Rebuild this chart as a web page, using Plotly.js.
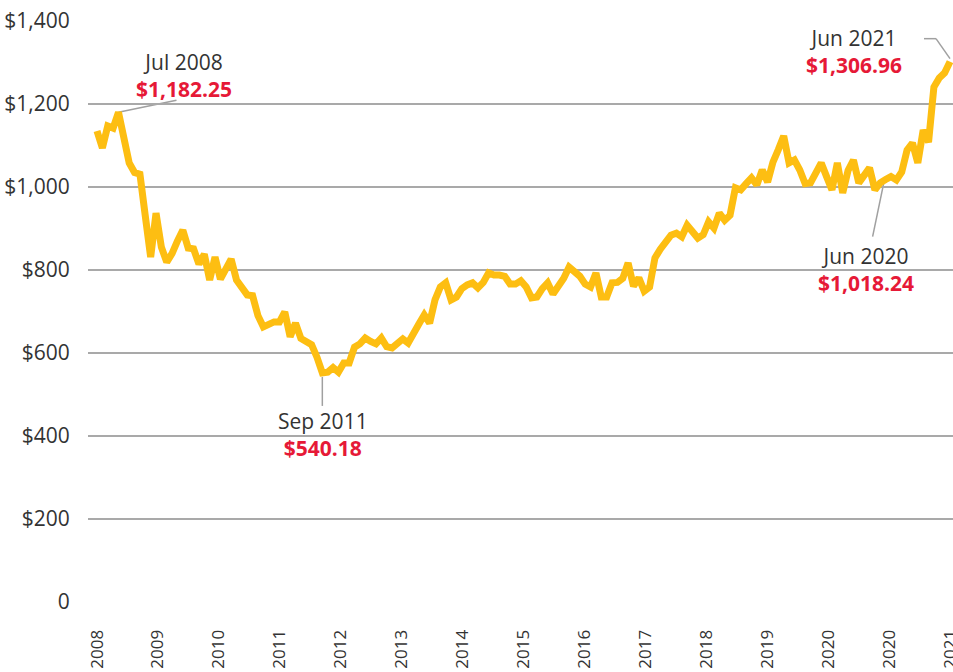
<!DOCTYPE html>
<html>
<head>
<meta charset="utf-8">
<script src="https://cdn.plot.ly/plotly-3.0.1.min.js"></script>
<style>html,body{margin:0;padding:0;background:#fff;}#chart{width:953px;height:672px;}</style>
</head>
<body>
<div id="chart"></div>
<script>
// Monthly prices, Mar 2008 .. Jun 2021
const prices = [
  1135, 1094, 1147, 1142, 1180, 1118, 1058, 1035, 1031, 930,
  831, 937, 855, 819, 840, 870, 896, 853, 851, 814,
  838, 776, 831, 778, 805, 826, 776, 758, 740, 738,
  690, 663, 670, 675, 675, 699, 639, 672, 635, 625,
  620, 590, 552, 554, 565, 554, 576, 576, 614, 622,
  636, 628, 622, 636, 615, 612, 625, 634, 624, 650,
  670, 692, 672, 728, 759, 769, 728, 735, 755, 764,
  769, 757, 770, 793, 788, 788, 785, 766, 766, 774,
  759, 733, 735, 755, 769, 742, 760, 780, 807, 795,
  785, 766, 759, 793, 735, 735, 769, 770, 780, 817,
  761, 781, 749, 759, 829, 850, 870, 884, 889, 880,
  908, 890, 877, 885, 916, 901, 937, 920, 932, 998,
  993, 1008, 1022, 1005, 1041, 1012, 1060, 1090, 1123, 1058,
  1065, 1041, 1008, 1010, 1035, 1058, 1025, 993, 1058, 986,
  1040, 1065, 1010, 1025, 1046, 993, 1010, 1018, 1025, 1017,
  1036, 1089, 1106, 1058, 1137, 1108, 1241, 1263, 1275, 1302
];
const monthIndex = prices.map((_, i) => i);

const xTickLabels = ["2008","2009","2010","2011","2012","2013","2014","2015","2016","2017","2018","2019","2020","2020","2021"];
const yTickValues = [0, 200, 400, 600, 800, 1000, 1200, 1400];
const yTickLabels = ["0", "$200", "$400", "$600", "$800", "$1,000", "$1,200", "$1,400"];

// Highlighted points: index into prices, labels
const calloutIndex = [4, 42, 147, 159];
const calloutMonth = ["Jul 2008", "Sep 2011", "Jun 2020", "Jun 2021"];
const calloutValue = ["$1,182.25", "$540.18", "$1,018.24", "$1,306.96"];

const last = prices.length - 1;
const xTickVals = xTickLabels.map((_, i) => i * last / (xTickLabels.length - 1));

const RED = '#e61937';
const TXT = '#333333';
const GRID = '#a9a9a9';

// label offsets in pixels relative to the point
const labelShift = [[66, 37], [1, -62], [-20, -90], [-96, 10]];
// leader line segments (pixels, relative to the point)
const leaders = [
  [[[0, 0], [58, 12]]],
  [[[0, -4], [0, -33]]],
  [[[-2, -4], [-13, -57]]],
  [[[0, 3], [-14, 23]], [[-14, 23], [-26, 23]]]
];

const annotations = calloutIndex.map((idx, k) => ({
  x: idx, y: prices[idx], xref: 'x', yref: 'y',
  xshift: labelShift[k][0], yshift: labelShift[k][1],
  showarrow: false, xanchor: 'center', yanchor: 'middle', align: 'center',
  text: calloutMonth[k] + '<br><b><span style="color:' + RED + '">' + calloutValue[k] + '</span></b>',
  font: {family: 'Open Sans, sans-serif', size: 21, color: TXT}
}));

const shapes = [];
calloutIndex.forEach((idx, k) => {
  leaders[k].forEach(seg => {
    shapes.push({
      type: 'line', xref: 'x', yref: 'y',
      xsizemode: 'pixel', ysizemode: 'pixel',
      xanchor: idx, yanchor: prices[idx],
      x0: seg[0][0], y0: seg[0][1], x1: seg[1][0], y1: seg[1][1],
      line: {color: '#a0a0a0', width: 1.5},
      layer: 'below'
    });
  });
});

const trace = {
  x: monthIndex, y: prices, type: 'scatter', mode: 'lines',
  line: {color: '#fdbe12', width: 7, shape: 'linear'},
  hoverinfo: 'skip'
};

const layout = {
  width: 953, height: 672,
  margin: {l: 88, r: 0, t: 21, b: 70, pad: 0},
  paper_bgcolor: '#ffffff', plot_bgcolor: '#ffffff',
  showlegend: false,
  font: {family: 'Open Sans, sans-serif', size: 18, color: TXT},
  xaxis: {
    range: [-1.68, last + 0.56],
    tickmode: 'array', tickvals: xTickVals, ticktext: xTickLabels,
    tickangle: -90, showgrid: false, zeroline: false, showline: false,
    ticks: 'outside', ticklen: 20, tickcolor: 'rgba(0,0,0,0)',
    ticklabeloverflow: 'allow',
    tickfont: {family: 'Open Sans, sans-serif', size: 17, color: TXT},
    fixedrange: true
  },
  yaxis: {
    range: [0, 1400],
    tickmode: 'array', tickvals: yTickValues, ticktext: yTickLabels,
    showgrid: true, gridcolor: GRID, gridwidth: 1.5,
    zeroline: false, showline: false,
    ticks: 'outside', ticklen: 13, tickcolor: 'rgba(0,0,0,0)',
    tickfont: {family: 'Open Sans, sans-serif', size: 21, color: TXT},
    fixedrange: true
  },
  annotations: annotations,
  shapes: shapes
};

Plotly.newPlot('chart', [trace], layout, {displayModeBar: false, staticPlot: true});
</script>
</body>
</html>
